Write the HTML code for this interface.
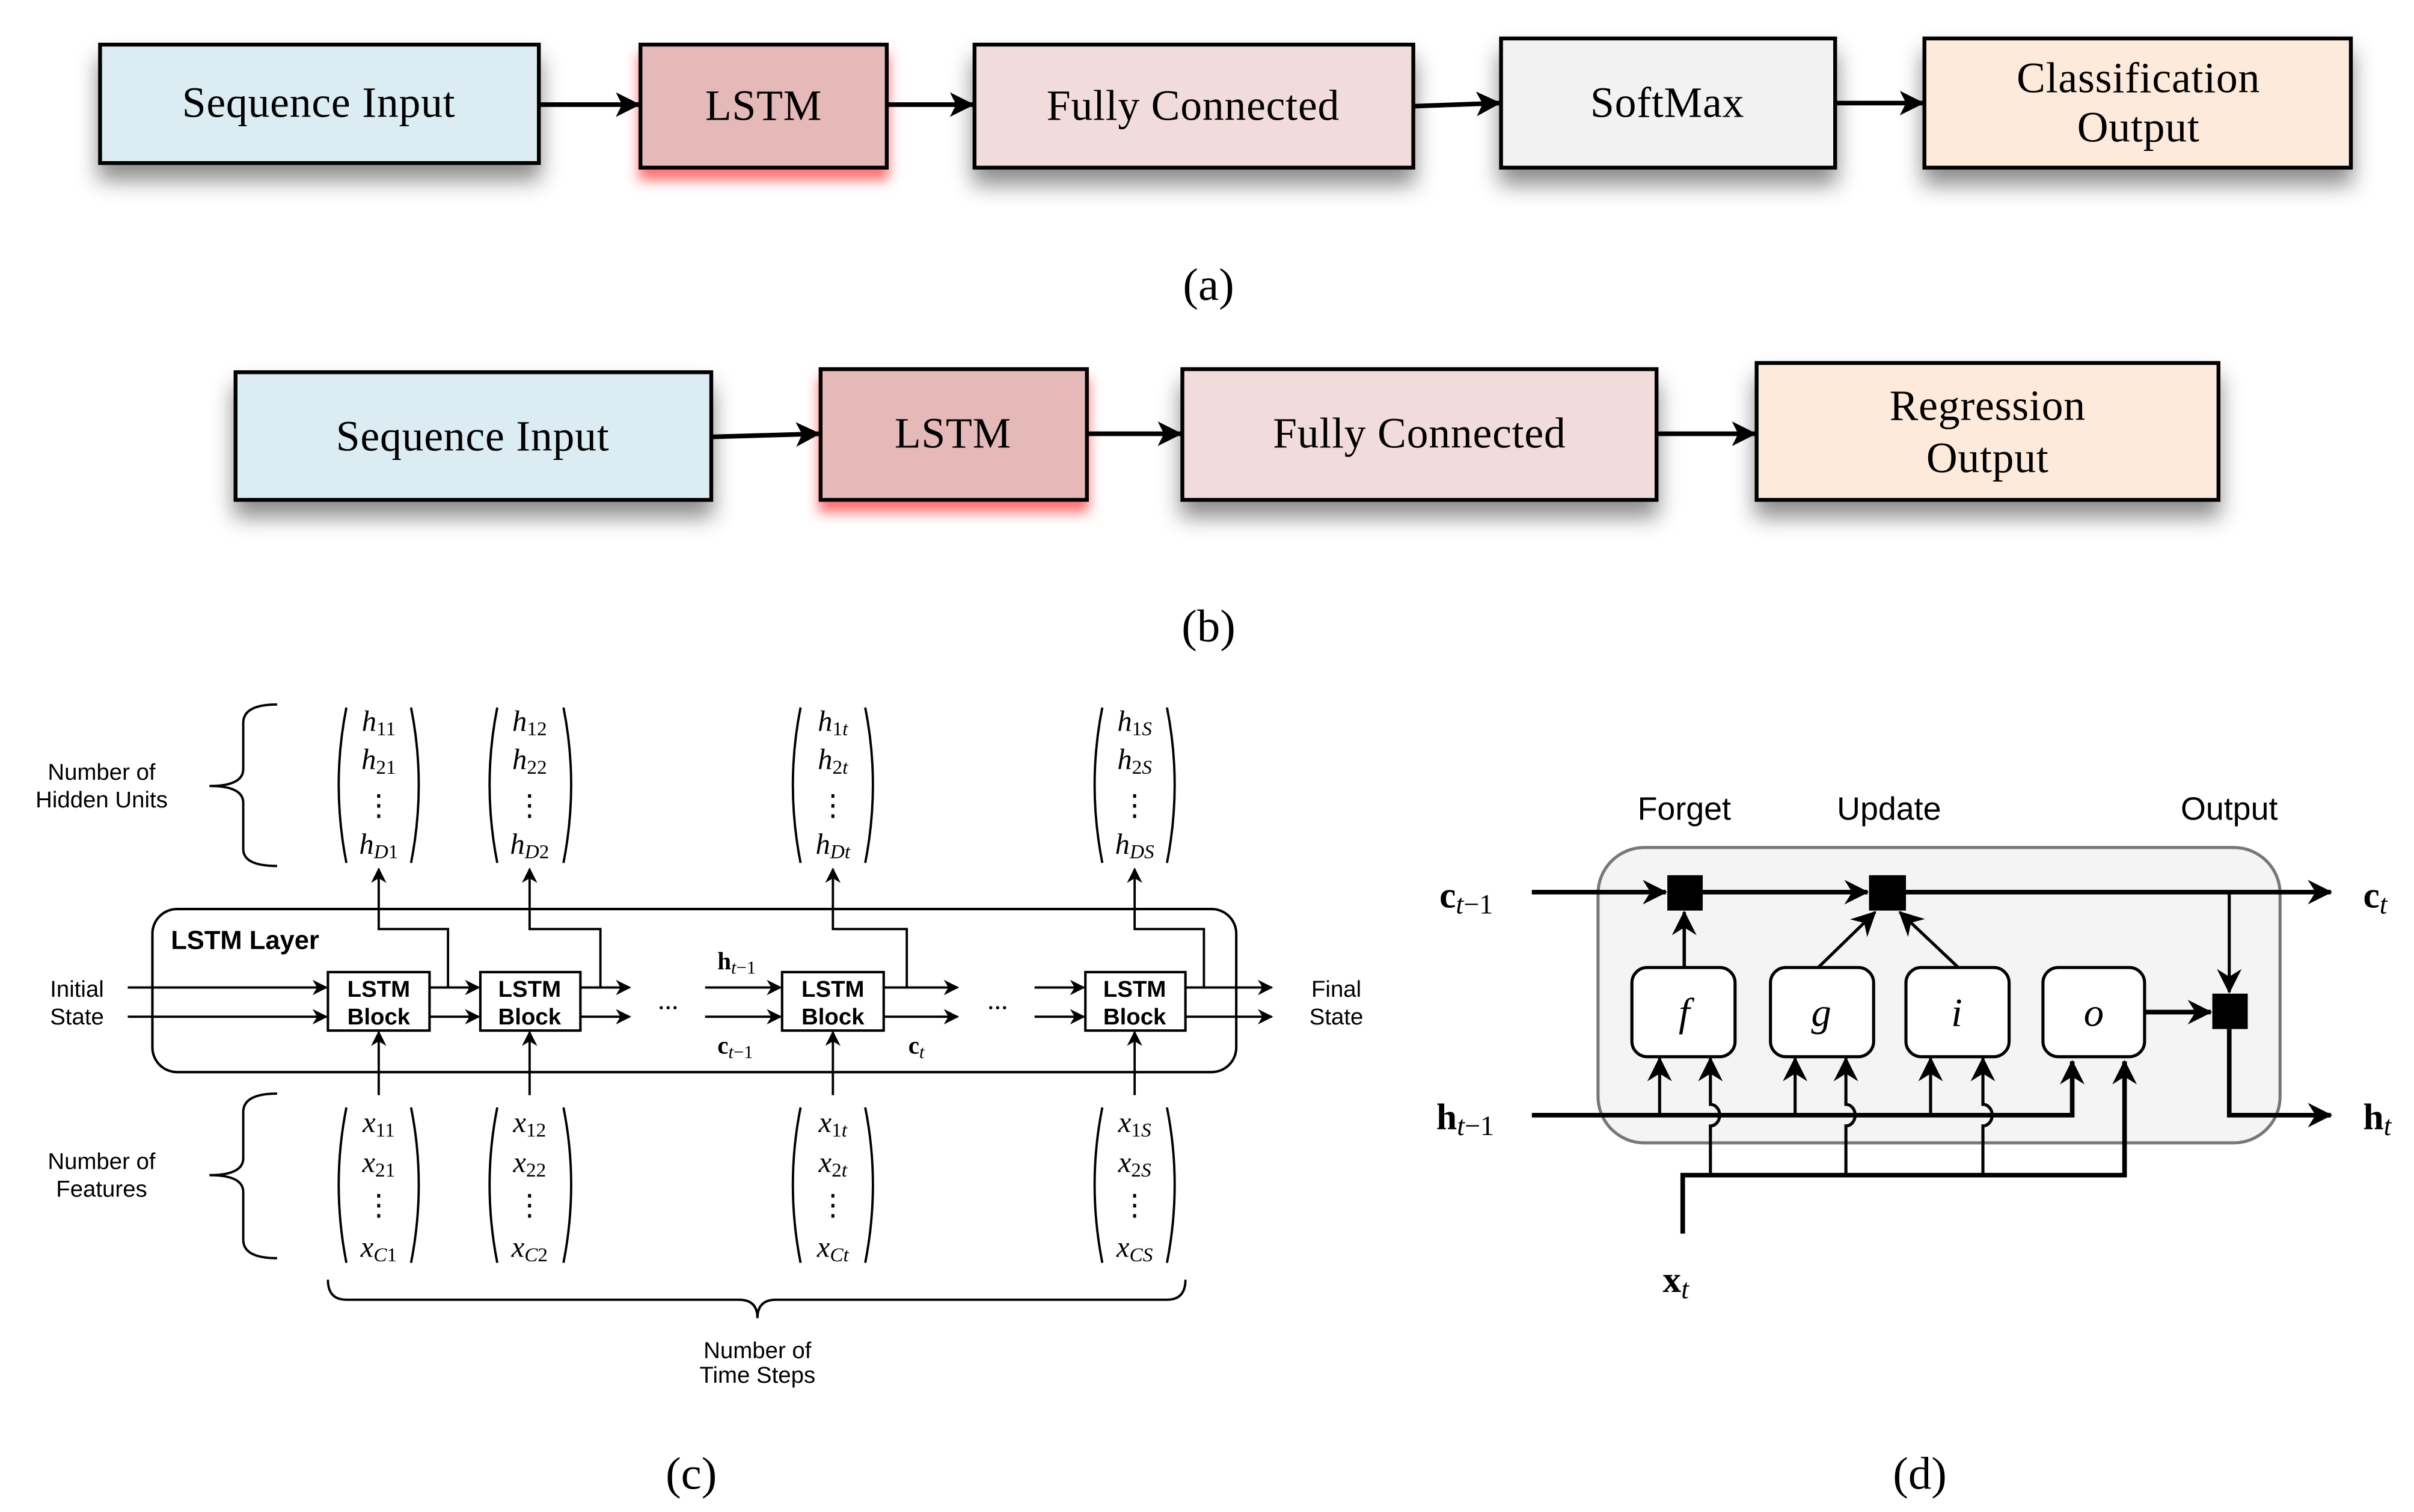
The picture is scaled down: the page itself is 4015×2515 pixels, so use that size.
<!DOCTYPE html>
<html><head><meta charset="utf-8"><style>
html,body{margin:0;padding:0;background:#fff;}
svg{display:block;}
.serif{font-family:"Liberation Serif",serif;}
.sans{font-family:"Liberation Sans",sans-serif;}
.box{stroke:#000;stroke-width:2.5;}
.bl{font-family:"Liberation Serif",serif;font-size:28px;text-anchor:middle;letter-spacing:0.3px;}
.m{font-family:"Liberation Serif",serif;font-style:italic;font-size:19px;text-anchor:middle;}
.lbl{font-family:"Liberation Sans",sans-serif;font-size:15px;text-anchor:middle;}
.ln{stroke:#000;fill:none;stroke-width:1.5;}
.lnd{stroke:#000;fill:none;stroke-width:3;}
</style></head><body>
<svg width="4015" height="2515" viewBox="0 0 1568 983" preserveAspectRatio="none" xmlns="http://www.w3.org/2000/svg">
<defs>
<filter id="sh" x="-20%" y="-20%" width="140%" height="180%"><feDropShadow dx="0" dy="10" stdDeviation="7" flood-color="#000" flood-opacity="0.45"/></filter>
<filter id="shr" x="-20%" y="-20%" width="140%" height="180%"><feDropShadow dx="0" dy="7" stdDeviation="4" flood-color="#ff3030" flood-opacity="0.7"/></filter>
<marker id="a" markerWidth="10" markerHeight="10" refX="9" refY="5" orient="auto" markerUnits="userSpaceOnUse"><path d="M0,0 L10,5 L0,10 L3,5 Z" fill="#000"/></marker>
<marker id="ab" markerWidth="16" markerHeight="16" refX="15" refY="8" orient="auto" markerUnits="userSpaceOnUse"><path d="M0,0 L16,8 L0,16 L4,8 Z" fill="#000"/></marker>
<marker id="ad" markerWidth="16" markerHeight="16" refX="15" refY="8" orient="auto" markerUnits="userSpaceOnUse"><path d="M0,0 L16,8 L0,16 L5,8 Z" fill="#000"/></marker>
</defs>

<!-- (a) -->
<rect x="65" y="29" width="285" height="77" fill="#dbedf3" class="box" filter="url(#sh)"/>
<rect x="416" y="29" width="160" height="80" fill="#e5b9b8" class="box" filter="url(#shr)"/>
<rect x="633" y="29" width="285" height="80" fill="#f2dcdb" class="box" filter="url(#sh)"/>
<rect x="975" y="25" width="217" height="84" fill="#f2f2f2" class="box" filter="url(#sh)"/>
<rect x="1250" y="25" width="277" height="84" fill="#fdeada" class="box" filter="url(#sh)"/>
<text x="207" y="76" class="bl">Sequence Input</text>
<text x="496" y="78" class="bl">LSTM</text>
<text x="775" y="78" class="bl">Fully Connected</text>
<text x="1083" y="76" class="bl">SoftMax</text>
<text x="1389" y="60" class="bl">Classification</text>
<text x="1389" y="92" class="bl">Output</text>
<line x1="351" y1="68" x2="415" y2="68" class="lnd" marker-end="url(#ab)"/>
<line x1="577" y1="68" x2="632" y2="68" class="lnd" marker-end="url(#ab)"/>
<line x1="919" y1="69" x2="974" y2="67" class="lnd" marker-end="url(#ab)"/>
<line x1="1193" y1="67" x2="1249" y2="67" class="lnd" marker-end="url(#ab)"/>
<text x="785" y="195" class="serif" font-size="30" text-anchor="middle">(a)</text>

<!-- (b) -->
<rect x="153" y="242" width="309" height="83" fill="#dbedf3" class="box" filter="url(#sh)"/>
<rect x="533" y="240" width="173" height="85" fill="#e5b9b8" class="box" filter="url(#shr)"/>
<rect x="768" y="240" width="308" height="85" fill="#f2dcdb" class="box" filter="url(#sh)"/>
<rect x="1141" y="236" width="300" height="89" fill="#fdeada" class="box" filter="url(#sh)"/>
<text x="307" y="293" class="bl">Sequence Input</text>
<text x="619" y="291" class="bl">LSTM</text>
<text x="922" y="291" class="bl">Fully Connected</text>
<text x="1291" y="273" class="bl">Regression</text>
<text x="1291" y="307" class="bl">Output</text>
<line x1="463" y1="284" x2="532" y2="282" class="lnd" marker-end="url(#ab)"/>
<line x1="707" y1="282" x2="767" y2="282" class="lnd" marker-end="url(#ab)"/>
<line x1="1077" y1="282" x2="1140" y2="282" class="lnd" marker-end="url(#ab)"/>
<text x="785" y="417" class="serif" font-size="30" text-anchor="middle">(b)</text>

<!-- (c) -->
<rect x="99" y="591" width="704" height="106" rx="16" fill="none" stroke="#000" stroke-width="1.6"/>
<text x="111" y="617" class="sans" font-size="17" font-weight="bold">LSTM Layer</text>
<g class="sans" font-size="15" font-weight="bold" text-anchor="middle">
<rect x="213" y="632" width="66" height="38" fill="#fff" stroke="#000" stroke-width="1.6"/>
<text x="246" y="648">LSTM</text><text x="246" y="666">Block</text>
<rect x="312" y="632" width="65" height="38" fill="#fff" stroke="#000" stroke-width="1.6"/>
<text x="344" y="648">LSTM</text><text x="344" y="666">Block</text>
<rect x="508" y="632" width="66" height="38" fill="#fff" stroke="#000" stroke-width="1.6"/>
<text x="541" y="648">LSTM</text><text x="541" y="666">Block</text>
<rect x="705" y="632" width="65" height="38" fill="#fff" stroke="#000" stroke-width="1.6"/>
<text x="737" y="648">LSTM</text><text x="737" y="666">Block</text>
</g>
<g class="ln" marker-end="url(#a)">
<line x1="83" y1="642" x2="212" y2="642"/><line x1="83" y1="661" x2="212" y2="661"/>
<line x1="279" y1="642" x2="311" y2="642"/><line x1="279" y1="661" x2="311" y2="661"/>
<line x1="377" y1="642" x2="409" y2="642"/><line x1="377" y1="661" x2="409" y2="661"/>
<line x1="458" y1="642" x2="507" y2="642"/><line x1="458" y1="661" x2="507" y2="661"/>
<line x1="574" y1="642" x2="622" y2="642"/><line x1="574" y1="661" x2="622" y2="661"/>
<line x1="672" y1="642" x2="704" y2="642"/><line x1="672" y1="661" x2="704" y2="661"/>
<line x1="770" y1="642" x2="826" y2="642"/><line x1="770" y1="661" x2="826" y2="661"/>
<polyline points="291,642 291,604 246,604 246,565"/>
<polyline points="390,642 390,604 344,604 344,565"/>
<polyline points="589,642 589,604 541,604 541,565"/>
<polyline points="782,642 782,604 737,604 737,565"/>
<line x1="246" y1="712" x2="246" y2="671"/><line x1="344" y1="712" x2="344" y2="671"/>
<line x1="541" y1="712" x2="541" y2="671"/><line x1="737" y1="712" x2="737" y2="671"/>
</g>
<text x="434" y="656" class="serif" font-size="18" text-anchor="middle">...</text>
<text x="648" y="656" class="serif" font-size="18" text-anchor="middle">...</text>
<text x="466" y="630" class="serif" font-size="16" font-weight="bold">h<tspan font-style="italic" font-weight="normal" font-size="12" dy="3">t</tspan><tspan font-weight="normal" font-size="12">−1</tspan></text>
<text x="466" y="685" class="serif" font-size="16" font-weight="bold">c<tspan font-style="italic" font-weight="normal" font-size="12" dy="3">t</tspan><tspan font-weight="normal" font-size="12">−1</tspan></text>
<text x="590" y="685" class="serif" font-size="16" font-weight="bold">c<tspan font-style="italic" font-weight="normal" font-size="12" dy="3">t</tspan></text>
<g class="lbl">
<text x="50" y="648">Initial</text><text x="50" y="666">State</text>
<text x="868" y="648">Final</text><text x="868" y="666">State</text>
<text x="66" y="507">Number of</text><text x="66" y="525">Hidden Units</text>
<text x="66" y="760">Number of</text><text x="66" y="778">Features</text>
<text x="492" y="883">Number of</text><text x="492" y="899">Time Steps</text>
</g>
<g class="ln" stroke-width="1.4">
<path d="M180,458 Q158,458 158,470 L158,500 Q158,511 136,511 Q158,511 158,522 L158,552 Q158,563 180,563"/>
<path d="M180,711 Q158,711 158,723 L158,753 Q158,764 136,764 Q158,764 158,775 L158,806 Q158,818 180,818"/>
<path d="M213,832 Q213,845 225,845 L480,845 Q492,845 492,857 Q492,845 504,845 L758,845 Q770,845 770,832"/>
</g>
<g class="ln" stroke-width="1.8">
<path d="M225,460 Q215,510 225,561"/><path d="M267,460 Q277,510 267,561"/>
<path d="M323,460 Q313,510 323,561"/><path d="M366,460 Q376,510 366,561"/>
<path d="M520,460 Q510,510 520,561"/><path d="M562,460 Q572,510 562,561"/>
<path d="M716,460 Q706,510 716,561"/><path d="M758,460 Q768,510 758,561"/>
<path d="M225,720 Q215,770 225,821"/><path d="M267,720 Q277,770 267,821"/>
<path d="M323,720 Q313,770 323,821"/><path d="M366,720 Q376,770 366,821"/>
<path d="M520,720 Q510,770 520,821"/><path d="M562,720 Q572,770 562,821"/>
<path d="M716,720 Q706,770 716,821"/><path d="M758,720 Q768,770 758,821"/>
</g>
<g class="m">
<text x="246" y="475">h<tspan font-style="normal" font-size="13" dy="3">11</tspan></text>
<text x="246" y="500">h<tspan font-style="normal" font-size="13" dy="3">21</tspan></text>
<text x="246" y="530" font-style="normal">⋮</text>
<text x="246" y="555">h<tspan font-size="13" dy="3">D</tspan><tspan font-style="normal" font-size="13">1</tspan></text>
<text x="344" y="475">h<tspan font-style="normal" font-size="13" dy="3">12</tspan></text>
<text x="344" y="500">h<tspan font-style="normal" font-size="13" dy="3">22</tspan></text>
<text x="344" y="530" font-style="normal">⋮</text>
<text x="344" y="555">h<tspan font-size="13" dy="3">D</tspan><tspan font-style="normal" font-size="13">2</tspan></text>
<text x="541" y="475">h<tspan font-style="normal" font-size="13" dy="3">1</tspan><tspan font-size="13">t</tspan></text>
<text x="541" y="500">h<tspan font-style="normal" font-size="13" dy="3">2</tspan><tspan font-size="13">t</tspan></text>
<text x="541" y="530" font-style="normal">⋮</text>
<text x="541" y="555">h<tspan font-size="13" dy="3">Dt</tspan></text>
<text x="737" y="475">h<tspan font-style="normal" font-size="13" dy="3">1</tspan><tspan font-size="13">S</tspan></text>
<text x="737" y="500">h<tspan font-style="normal" font-size="13" dy="3">2</tspan><tspan font-size="13">S</tspan></text>
<text x="737" y="530" font-style="normal">⋮</text>
<text x="737" y="555">h<tspan font-size="13" dy="3">DS</tspan></text>

<text x="246" y="736">x<tspan font-style="normal" font-size="13" dy="3">11</tspan></text>
<text x="246" y="762">x<tspan font-style="normal" font-size="13" dy="3">21</tspan></text>
<text x="246" y="790" font-style="normal">⋮</text>
<text x="246" y="817">x<tspan font-size="13" dy="3">C</tspan><tspan font-style="normal" font-size="13">1</tspan></text>
<text x="344" y="736">x<tspan font-style="normal" font-size="13" dy="3">12</tspan></text>
<text x="344" y="762">x<tspan font-style="normal" font-size="13" dy="3">22</tspan></text>
<text x="344" y="790" font-style="normal">⋮</text>
<text x="344" y="817">x<tspan font-size="13" dy="3">C</tspan><tspan font-style="normal" font-size="13">2</tspan></text>
<text x="541" y="736">x<tspan font-style="normal" font-size="13" dy="3">1</tspan><tspan font-size="13">t</tspan></text>
<text x="541" y="762">x<tspan font-style="normal" font-size="13" dy="3">2</tspan><tspan font-size="13">t</tspan></text>
<text x="541" y="790" font-style="normal">⋮</text>
<text x="541" y="817">x<tspan font-size="13" dy="3">Ct</tspan></text>
<text x="737" y="736">x<tspan font-style="normal" font-size="13" dy="3">1</tspan><tspan font-size="13">S</tspan></text>
<text x="737" y="762">x<tspan font-style="normal" font-size="13" dy="3">2</tspan><tspan font-size="13">S</tspan></text>
<text x="737" y="790" font-style="normal">⋮</text>
<text x="737" y="817">x<tspan font-size="13" dy="3">CS</tspan></text>
</g>
<text x="449" y="968" class="serif" font-size="30" text-anchor="middle">(c)</text>

<!-- (d) -->
<rect x="1038" y="551" width="443" height="192" rx="30" fill="#f4f4f4" stroke="#777" stroke-width="2"/>
<g class="sans" font-size="21" text-anchor="middle">
<text x="1094" y="533">Forget</text><text x="1227" y="533">Update</text><text x="1448" y="533">Output</text>
</g>
<g stroke="#000" fill="none" stroke-width="3">
<line x1="995" y1="580" x2="1082" y2="580" marker-end="url(#ad)"/>
<line x1="1106" y1="580" x2="1213" y2="580" marker-end="url(#ad)"/>
<line x1="1238" y1="580" x2="1514" y2="580" marker-end="url(#ad)"/>
<line x1="1448" y1="580" x2="1448" y2="645" stroke-width="2" marker-end="url(#ad)"/>
<line x1="1393" y1="658" x2="1436" y2="658" marker-end="url(#ad)"/>
<polyline points="1448,669 1448,725 1514,725" marker-end="url(#ad)"/>
<line x1="1094" y1="629" x2="1094" y2="593" stroke-width="2.2" marker-end="url(#ad)"/>
<line x1="1181" y1="629" x2="1218" y2="593" stroke-width="2" marker-end="url(#ad)"/>
<line x1="1272" y1="629" x2="1234" y2="593" stroke-width="2" marker-end="url(#ad)"/>
<polyline points="995,725 1346,725 1346,690" marker-end="url(#ad)"/>
<line x1="1078" y1="725" x2="1078" y2="688" stroke-width="2" marker-end="url(#ad)"/>
<line x1="1166" y1="725" x2="1166" y2="688" stroke-width="2" marker-end="url(#ad)"/>
<line x1="1254" y1="725" x2="1254" y2="688" stroke-width="2" marker-end="url(#ad)"/>
<polyline points="1093,802 1093,764 1380,764 1380,690" marker-end="url(#ad)"/>
<path d="M1111,764 L1111,732 A6,7 0 0 0 1111,718 L1111,688" stroke-width="2" marker-end="url(#ad)"/>
<path d="M1199,764 L1199,732 A6,7 0 0 0 1199,718 L1199,688" stroke-width="2" marker-end="url(#ad)"/>
<path d="M1288,764 L1288,732 A6,7 0 0 0 1288,718 L1288,688" stroke-width="2" marker-end="url(#ad)"/>
</g>
<rect x="1083" y="569" width="23" height="23" fill="#000"/>
<rect x="1214" y="569" width="24" height="23" fill="#000"/>
<rect x="1437" y="646" width="23" height="23" fill="#000"/>
<g fill="#fff" stroke="#000" stroke-width="2">
<rect x="1060" y="629" width="67" height="58" rx="10"/>
<rect x="1150" y="629" width="67" height="58" rx="10"/>
<rect x="1238" y="629" width="67" height="58" rx="10"/>
<rect x="1327" y="629" width="66" height="58" rx="10"/>
</g>
<g class="serif" font-style="italic" font-size="26" text-anchor="middle">
<text x="1094" y="667">f</text><text x="1183" y="667">g</text><text x="1271" y="667">i</text><text x="1360" y="667">o</text>
</g>
<g class="serif" font-size="24" font-weight="bold">
<text x="935" y="590">c<tspan font-style="italic" font-weight="normal" font-size="18" dy="4">t</tspan><tspan font-weight="normal" font-size="18">−1</tspan></text>
<text x="933" y="734">h<tspan font-style="italic" font-weight="normal" font-size="18" dy="4">t</tspan><tspan font-weight="normal" font-size="18">−1</tspan></text>
<text x="1535" y="590">c<tspan font-style="italic" font-weight="normal" font-size="18" dy="4">t</tspan></text>
<text x="1535" y="734">h<tspan font-style="italic" font-weight="normal" font-size="18" dy="4">t</tspan></text>
<text x="1080" y="840">x<tspan font-style="italic" font-weight="normal" font-size="18" dy="4">t</tspan></text>
</g>
<text x="1247" y="968" class="serif" font-size="30" text-anchor="middle">(d)</text>
</svg>
</body></html>
